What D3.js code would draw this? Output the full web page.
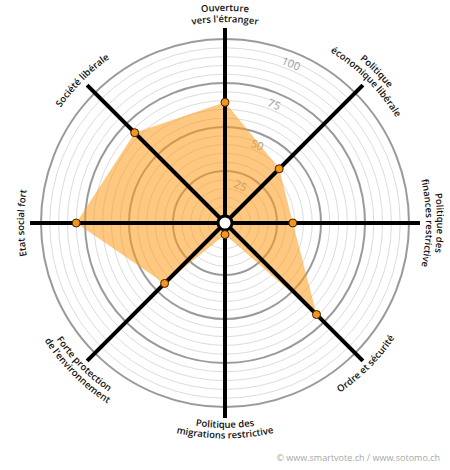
<!DOCTYPE html>
<html><head><meta charset="utf-8">
<script src="https://cdn.jsdelivr.net/npm/d3@7"></script>
<style>body{margin:0;background:#fff}svg{display:block}</style>
</head><body>
<svg id="c" width="450" height="470"></svg>
<script>
const categories = [
  ["Ouverture","vers l'étranger"],
  ["Politique","économique libérale"],
  ["Politique des","finances restrictive"],
  ["Ordre et sécurité"],
  ["Politique des","migrations restrictive"],
  ["Forte protection","de l'environnement"],
  ["Etat social fort"],
  ["Société libérale"]
];
const values = [64, 39, 34, 69, 2, 44, 80, 68];
const tickValues = [25, 50, 75, 100];
const minorTicks = d3.range(5, 100, 5).filter(v => v % 25 !== 0);
const credit = "© www.smartvote.ch / www.sotomo.ch";

const svg = d3.select("#c");
const cx = 225, cy = 223;
const r = d3.scaleLinear().domain([0, 100]).range([8, 184]);
const ang = d3.scaleLinear().domain([0, categories.length]).range([0, 360]);
const pt = (a, rad) => [cx + rad * Math.sin(a * Math.PI / 180), cy - rad * Math.cos(a * Math.PI / 180)];

const g = svg.append("g");
g.selectAll("circle.minor").data(minorTicks).join("circle")
  .attr("cx", cx).attr("cy", cy).attr("r", d => r(d))
  .attr("fill", "none").attr("stroke", "#dcdcdc").attr("stroke-width", 1);
g.selectAll("circle.major").data(tickValues).join("circle")
  .attr("cx", cx).attr("cy", cy).attr("r", d => r(d))
  .attr("fill", "none").attr("stroke", "#9a9a9a").attr("stroke-width", 2);

g.selectAll("text.tick").data(tickValues).join("text")
  .attr("transform", d => { const p = pt(22.5, r(d) - 11); return `translate(${p[0]},${p[1]}) rotate(22.5)`; })
  .attr("text-anchor", "middle").attr("dominant-baseline", "central")
  .attr("font-family", "Open Sans, sans-serif").attr("font-size", 11)
  .attr("fill", "#9a9a9a").text(d => d);

const line = d3.lineRadial().angle((d, i) => ang(i) * Math.PI / 180).radius(d => r(d)).curve(d3.curveLinearClosed);
g.append("path").attr("transform", `translate(${cx},${cy})`)
  .attr("d", line(values)).attr("fill", "#ff9a1a").attr("fill-opacity", 0.55);

g.selectAll("line.axis").data(categories).join("line")
  .attr("x1", cx).attr("y1", cy)
  .attr("x2", (d, i) => pt(ang(i), 195)[0]).attr("y2", (d, i) => pt(ang(i), 195)[1])
  .attr("stroke", "#000").attr("stroke-width", 4);

g.append("circle").attr("cx", cx).attr("cy", cy).attr("r", 7)
  .attr("fill", "#fff").attr("stroke", "#000").attr("stroke-width", 3);

g.selectAll("circle.pt").data(values).join("circle")
  .attr("cx", (d, i) => pt(ang(i), r(d))[0]).attr("cy", (d, i) => pt(ang(i), r(d))[1])
  .attr("r", 4).attr("fill", "#f7941d").attr("stroke", "#3a2000").attr("stroke-width", 1);

const defs = svg.append("defs");
categories.forEach((lines, i) => {
  const a = ang(i);
  const bottom = a > 90 && a < 270;
  const n = lines.length;
  lines.forEach((txt, j) => {
    const R = bottom ? 205 + j * 10.5 : 201 + (n - 1 - j) * 11;
    const a0 = bottom ? a + 90 : a - 90, a1 = bottom ? a - 90 : a + 90;
    const p0 = pt(a0, R), p1 = pt(a1, R);
    const id = `lp${i}_${j}`;
    defs.append("path").attr("id", id)
      .attr("d", `M${p0[0]},${p0[1]} A${R},${R} 0 0 ${bottom ? 0 : 1} ${p1[0]},${p1[1]}`);
    svg.append("text").attr("font-family", "Open Sans, sans-serif").attr("font-size", 9.5)
      .attr("font-weight", 600).attr("fill", "#111")
      .append("textPath").attr("href", "#" + id).attr("startOffset", "50%")
      .attr("text-anchor", "middle").text(txt);
  });
});

svg.append("text").attr("x", 440).attr("y", 461).attr("text-anchor", "end")
  .attr("font-family", "Open Sans, sans-serif").attr("font-size", 9).attr("fill", "#a8a8a8")
  .text(credit);
</script>
</body></html>
